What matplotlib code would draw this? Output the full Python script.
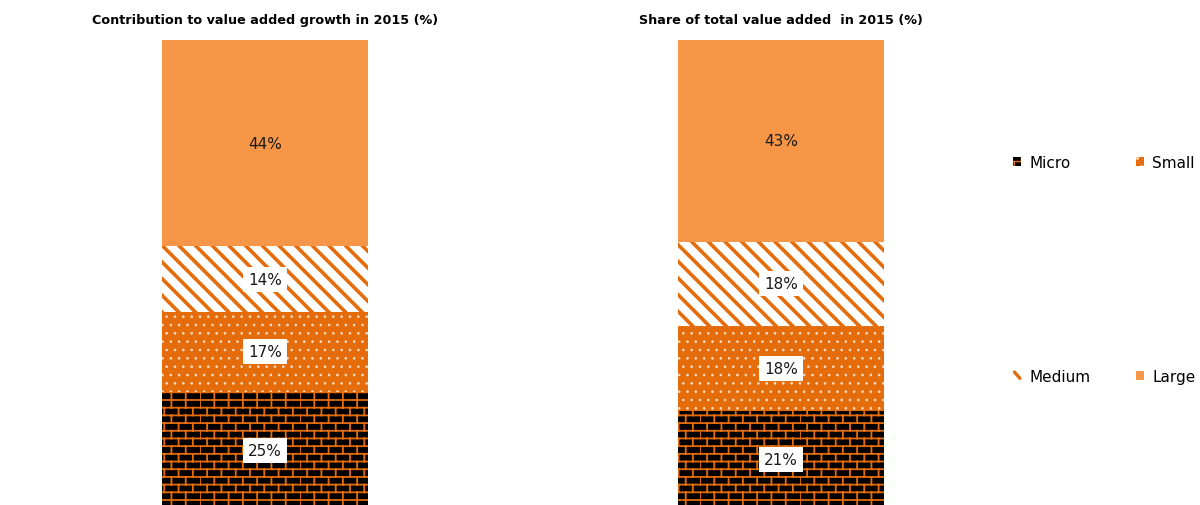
import warnings
import numpy as np
import matplotlib
matplotlib.use("Agg")
import matplotlib.pyplot as plt
from matplotlib import hatch as mhatch
from matplotlib.path import Path
from matplotlib.patches import Patch, Polygon
from matplotlib.legend_handler import HandlerPatch

warnings.filterwarnings("ignore")

# ---- data -------------------------------------------------------------
categories = ["Micro", "Small", "Medium", "Large"]
growth_contribution = [25, 17, 14, 44]   # contribution to value added growth, %
value_added_share = [21, 18, 18, 43]     # share of total value added, %
panel_titles = ["Contribution to value added growth in 2015 (%)",
                "Share of total value added  in 2015 (%)"]

# ---- styling ----------------------------------------------------------
ORANGE = "#E46C0A"
LIGHT_ORANGE = "#F79646"
styles = {
    "Micro":  dict(face="#000000", hatch="b",  hcolor=ORANGE,   hlw=1.3, boxed=True),
    "Small":  dict(face=ORANGE,    hatch="..", hcolor="#FBD9BC", hlw=0.7, boxed=True),
    "Medium": dict(face="#FFFFFF", hatch="\\\\", hcolor=ORANGE,  hlw=2.6, boxed=True),
    "Large":  dict(face=LIGHT_ORANGE, hatch=None, hcolor=LIGHT_ORANGE, hlw=1.0, boxed=False),
}


class BrickHatch(mhatch.HatchPatternBase):
    """Running-bond brick pattern, selected with the 'b' hatch character."""
    rows = 13
    bricks = 7

    def __init__(self, hatch, density):
        if "b" in hatch:
            # horizontal mortar lines + vertical joints
            self.num_vertices = 2 * (self.rows + 1) + 2 * self.rows * self.bricks
        else:
            self.num_vertices = 0

    def set_vertices_and_codes(self, vertices, codes):
        pts = []
        for i in range(self.rows + 1):
            y = i / self.rows
            pts += [(0.0, y), (1.0, y)]
        for i in range(self.rows):
            y0, y1 = i / self.rows, (i + 1) / self.rows
            off = 0.5 if i % 2 else 0.0
            for j in range(self.bricks):
                x = (j + off) / self.bricks
                pts += [(x, y0), (x, y1)]
        vertices[:] = np.array(pts)
        codes[0::2] = Path.MOVETO
        codes[1::2] = Path.LINETO


mhatch._hatch_types.append(BrickHatch)

W, H = 1200, 506
fig = plt.figure(figsize=(W / 100, H / 100), dpi=100)
fig.patch.set_facecolor("white")


def set_hatch_lw(artist, lw):
    if hasattr(artist, "set_hatch_linewidth"):
        artist.set_hatch_linewidth(lw)


def draw_panel(left_px, values, title):
    ax = fig.add_axes([left_px / W, -4 / H, 206 / W, 469 / H])
    ax.set_xlim(-0.5, 0.5)
    ax.set_ylim(0, 100)
    ax.axis("off")
    bottom = 0
    for cat, val in zip(categories, values):
        st = styles[cat]
        with plt.rc_context({"hatch.linewidth": st["hlw"]}):
            bars = ax.bar(0, val, width=1.0, bottom=bottom,
                          color=st["face"], edgecolor=st["hcolor"],
                          linewidth=0, hatch=st["hatch"])
        for b in bars:
            set_hatch_lw(b, st["hlw"])
        box = dict(boxstyle="square,pad=0.32", fc="white", ec="none") if st["boxed"] else None
        ax.text(0, bottom + val / 2, f"{val}%", ha="center", va="center",
                fontsize=11, color="#1a1a1a", bbox=box)
        bottom += val
    ax.set_title(title, fontsize=9.2, fontweight="bold", pad=12, color="black")
    return ax


draw_panel(162, growth_contribution, panel_titles[0])
draw_panel(678, value_added_share, panel_titles[1])


def diagonal_stripe(legend, orig_handle, xdescent, ydescent, width, height, fontsize):
    # one thick stripe running from top-left to bottom-right
    t = 0.28 * width
    verts = [(-xdescent, height - ydescent), (-xdescent + t, height - ydescent),
             (width - xdescent, -ydescent + t), (width - xdescent, -ydescent),
             (width - xdescent - t, -ydescent), (-xdescent, height - ydescent - t)]
    return Polygon(verts, closed=True)


handles = []
handler_map = {}
for cat in ["Micro", "Medium", "Small", "Large"]:
    st = styles[cat]
    if cat == "Medium":
        h = Patch(facecolor=ORANGE, edgecolor="none", linewidth=0, label=cat)
        handler_map[h] = HandlerPatch(patch_func=diagonal_stripe)
    else:
        with plt.rc_context({"hatch.linewidth": st["hlw"]}):
            h = Patch(facecolor=st["face"], edgecolor=st["hcolor"], linewidth=0,
                      hatch=st["hatch"], label=cat)
        set_hatch_lw(h, st["hlw"])
    handles.append(h)

fig.legend(handles=handles, handler_map=handler_map, ncol=2, loc="upper left",
           bbox_to_anchor=(1013 / W, 1 - 156 / H), bbox_transform=fig.transFigure,
           frameon=False, fontsize=11, handlelength=0.55, handleheight=0.55,
           handletextpad=0.5, columnspacing=3.0, labelspacing=13.0,
           borderpad=0, borderaxespad=0)

fig.savefig("out.png", dpi=100, facecolor="white")
